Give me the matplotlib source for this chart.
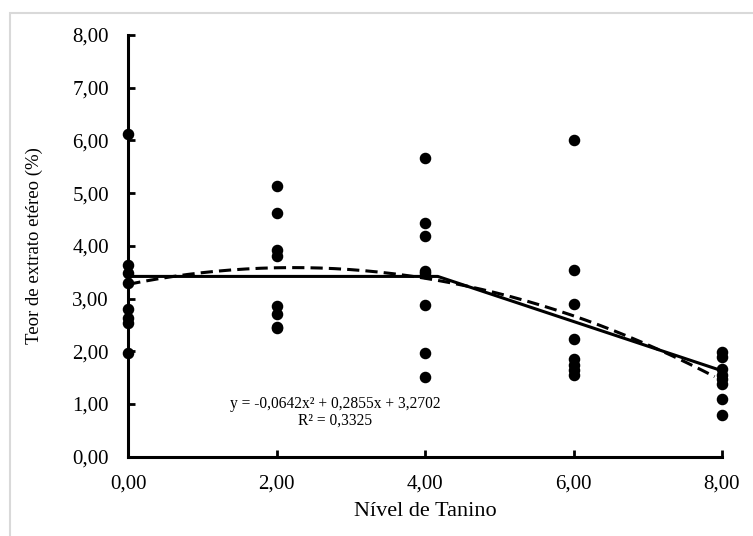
import numpy as np
import matplotlib
matplotlib.use('Agg')
import matplotlib.pyplot as plt
from matplotlib.patches import Rectangle

plt.rcParams['font.family'] = ['Liberation Serif', 'DejaVu Serif']

nivel = [0, 2, 4, 6, 8]
teor_0 = [6.13, 3.63, 3.48, 3.30, 2.80, 2.64, 2.54, 1.96]
teor_2 = [5.13, 4.62, 3.93, 3.80, 2.85, 2.71, 2.47, 2.44]
teor_4 = [5.66, 4.43, 4.19, 3.52, 3.49, 2.88, 1.96, 1.52]
teor_6 = [6.00, 3.54, 2.89, 2.24, 1.85, 1.74, 1.64, 1.55]
teor_8 = [1.99, 1.89, 1.67, 1.55, 1.48, 1.38, 1.09, 0.79]
teor = [teor_0, teor_2, teor_4, teor_6, teor_8]

# linear response plateau (solid line)
lrp_x = [0, 4.17, 8]
lrp_y = [3.42, 3.42, 1.63]

# quadratic trend (dashed line): y = -0,0642x² + 0,2855x + 3,2702
quad_coef = [-0.0642, 0.2855, 3.2702]

W, H = 753, 536
fig = plt.figure(figsize=(W / 100, H / 100), dpi=100)
ax = fig.add_axes([128.3 / W, 1 - 456.7 / H, (722 - 128.3) / W, (456.7 - 35) / H])

# chart area border (light gray)
fig.patches.append(Rectangle((10 / W, -0.1), 1.2, 1 - 13 / H + 0.1, transform=fig.transFigure,
                             fill=False, edgecolor='#d9d9d9', linewidth=1.5, zorder=0))

for x, vals in zip(nivel, teor):
    ax.plot([x] * len(vals), vals, 'o', color='black', ms=7.3, zorder=3, clip_on=False)

ax.plot(lrp_x, lrp_y, '-', color='black', lw=2.2, zorder=2)

xq = np.linspace(0, 7.9, 200)
ax.plot(xq, np.polyval(quad_coef, xq), '--', color='black', lw=2.2, dashes=(4, 2), zorder=2)

ax.text(2.79, 0.84, 'y = -0,0642x² + 0,2855x + 3,2702\nR² = 0,3325', ha='center', va='center',
        fontsize=11.2, multialignment='center', linespacing=1.0)

ax.set_xlim(0, 8)
ax.set_ylim(0, 8)
ax.set_xticks(np.arange(0, 9, 2))
ax.set_yticks(np.arange(0, 9, 1))
ax.set_xticklabels([f'{v:.2f}'.replace('.', ',') for v in np.arange(0, 9, 2)])
ax.set_yticklabels([f'{v:.2f}'.replace('.', ',') for v in np.arange(0, 9, 1)])

for s in ['top', 'right']:
    ax.spines[s].set_visible(False)
for s in ['left', 'bottom']:
    ax.spines[s].set_linewidth(2.2)

ax.tick_params(axis='both', direction='in', length=5, width=2, labelsize=15)
ax.tick_params(axis='y', pad=14)
ax.tick_params(axis='x', pad=13)

ax.set_xlabel('Nível de Tanino', fontsize=16, labelpad=6)
ax.set_ylabel('Teor de extrato etéreo (%)', fontsize=13.5, labelpad=21)

fig.savefig('out.png', dpi=100)
